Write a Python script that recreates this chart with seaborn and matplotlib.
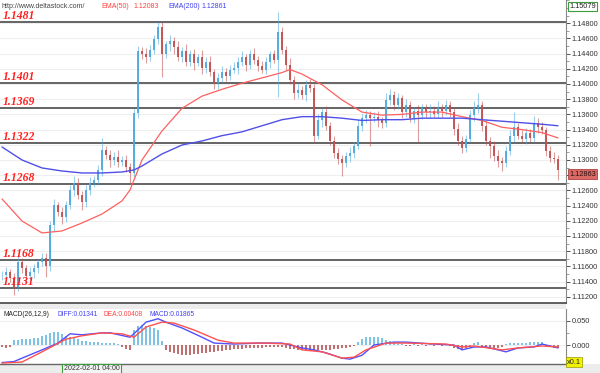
import matplotlib
matplotlib.use("Agg")
import matplotlib.pyplot as plt
from matplotlib.ticker import FuncFormatter, FormatStrFormatter, MultipleLocator
from matplotlib.patches import Rectangle
import seaborn as sns
import numpy as np

# ---------------- data ----------------
first_open = 1.11480
closes = [
    1.11487, 1.11526, 1.11447, 1.11329, 1.11658, 1.11579, 1.11474, 1.11526, 1.11579, 1.11658,
    1.11711, 1.11605, 1.12145, 1.12408, 1.12316, 1.12250, 1.12408, 1.12605, 1.12697, 1.12540,
    1.12447, 1.12605, 1.12697, 1.12737, 1.12868, 1.13132, 1.13066, 1.13000, 1.13040, 1.12974,
    1.13000, 1.12908, 1.12829, 1.13618, 1.14430, 1.14390, 1.14350, 1.14450, 1.14590, 1.14750,
    1.14390, 1.14520, 1.14560, 1.14480, 1.14360, 1.14430, 1.14290, 1.14390, 1.14280, 1.14350,
    1.14210, 1.14290, 1.14160, 1.14010, 1.14080, 1.14160, 1.14110, 1.14190, 1.14210, 1.14290,
    1.14350, 1.14250, 1.14390, 1.14320, 1.14240, 1.14190, 1.14290, 1.14390, 1.14320, 1.14680,
    1.14450, 1.14250, 1.14050, 1.13880, 1.13920, 1.13850, 1.13990, 1.13950, 1.13320, 1.13520,
    1.13630, 1.13450, 1.13250, 1.13090, 1.13010, 1.12960, 1.13050, 1.13090, 1.13190, 1.13450,
    1.13550, 1.13590, 1.13550, 1.13570, 1.13520, 1.13480, 1.13790, 1.13850, 1.13720, 1.13810,
    1.13630, 1.13720, 1.13550, 1.13650, 1.13590, 1.13680, 1.13630, 1.13650, 1.13610, 1.13680,
    1.13640, 1.13720, 1.13630, 1.13410, 1.13250, 1.13160, 1.13280, 1.13590, 1.13680, 1.13720,
    1.13450, 1.13250, 1.13190, 1.13050, 1.12990, 1.12960, 1.13120, 1.13320, 1.13430, 1.13320,
    1.13280, 1.13360, 1.13290, 1.13490, 1.13430, 1.13390, 1.13120, 1.13030, 1.13010, 1.12863,
]
# wick lengths beyond the body, in pips
wick_up = [
    5, 6, 4, 7, 8, 5, 4, 6, 5, 4, 7, 6, 5, 8, 4, 6, 5, 7, 9, 6,
    5, 6, 8, 5, 6, 16, 5, 7, 6, 9, 5, 6, 5, 6, 7, 5, 8, 6, 5, 6,
    7, 5, 9, 6, 8, 5, 9, 6, 7, 5, 10, 6, 8, 4, 6, 7, 5, 6, 8, 6,
    9, 5, 6, 8, 5, 6, 7, 5, 6, 27, 7, 5, 9, 6, 8, 5, 6, 7, 5, 9,
    6, 8, 5, 6, 7, 5, 6, 8, 5, 9, 6, 7, 5, 6, 8, 5, 9, 8, 6, 7,
    5, 8, 6, 5, 7, 6, 5, 8, 6, 9, 5, 7, 6, 5, 8, 6, 5, 7, 9, 16,
    6, 7, 5, 6, 8, 5, 6, 7, 20, 5, 8, 6, 5, 9, 6, 7, 5, 6, 8, 5,
]
wick_dn = [
    6, 7, 5, 10, 5, 7, 6, 5, 8, 6, 5, 14, 6, 8, 5, 9, 6, 5, 8, 6,
    11, 6, 7, 5, 6, 8, 5, 9, 6, 7, 5, 6, 13, 5, 7, 6, 8, 5, 6, 7,
    30, 5, 8, 9, 6, 7, 5, 6, 9, 5, 8, 6, 5, 7, 8, 5, 7, 6, 5, 8,
    6, 8, 5, 6, 7, 5, 6, 8, 5, 49, 6, 7, 5, 8, 6, 5, 7, 6, 9, 5,
    8, 6, 5, 7, 6, 17, 5, 8, 6, 5, 7, 6, 36, 5, 8, 6, 5, 7, 6, 5,
    8, 6, 5, 7, 36, 5, 6, 8, 5, 6, 7, 5, 6, 8, 5, 7, 6, 5, 8, 6,
    7, 5, 16, 6, 8, 11, 5, 6, 8, 5, 6, 7, 5, 6, 8, 5, 7, 6, 5, 13,
]

ema50_idx = [0, 5, 10, 15, 20, 25, 30, 32, 35, 40, 45, 50, 55, 60, 65, 70, 72, 75, 80, 85,
             90, 95, 100, 105, 110, 115, 120, 125, 130, 135, 139]
ema50 = [1.12487, 1.12197, 1.12040, 1.12066, 1.12171, 1.12289, 1.12461, 1.12605, 1.13000, 1.13382,
         1.13680, 1.13840, 1.13930, 1.14010, 1.14080, 1.14150, 1.14190, 1.14130, 1.13990, 1.13790,
         1.13630, 1.13590, 1.13600, 1.13630, 1.13630, 1.13570, 1.13520, 1.13430, 1.13400, 1.13360,
         1.13290]
ema200_idx = [0, 5, 10, 15, 20, 25, 30, 33, 35, 40, 45, 50, 55, 60, 65, 70, 75, 80, 85, 90,
              95, 100, 105, 110, 115, 120, 125, 130, 135, 139]
ema200 = [1.13171, 1.13000, 1.12895, 1.12855, 1.12829, 1.12829, 1.12842, 1.12868, 1.12921, 1.13079,
          1.13197, 1.13250, 1.13320, 1.13370, 1.13450, 1.13530, 1.13570, 1.13570, 1.13550, 1.13520,
          1.13530, 1.13530, 1.13550, 1.13550, 1.13550, 1.13530, 1.13510, 1.13490, 1.13470, 1.13450]

levels = [1.1481, 1.1401, 1.1369, 1.1322, 1.1268, 1.1168, 1.1131]
price_ticks = [1.112, 1.114, 1.116, 1.118, 1.120, 1.122, 1.124, 1.126, 1.128, 1.130,
               1.132, 1.134, 1.136, 1.138, 1.140, 1.142, 1.144, 1.146, 1.148]
last_price = 1.12863
top_price = 1.15079

diff_idx = [0, 3, 5, 10, 14, 17, 20, 25, 27, 32, 34, 36, 39, 41, 45, 50, 53, 58, 64, 70,
            75, 78, 81, 85, 87, 90, 93, 98, 101, 108, 113, 115, 118, 121, 125, 126, 129, 133, 135, 139]
diff = [-0.036, -0.034, -0.027, -0.010, 0.004, 0.023, 0.021, 0.025, 0.025, 0.016,
        0.031, 0.047, 0.054, 0.047, 0.035, 0.016, 0.004, 0.002, 0.004, 0.004,
        -0.006, -0.010, -0.016, -0.027, -0.029, -0.021, 0.000, 0.006, 0.006, 0.002,
        0.000, -0.010, -0.004, -0.004, -0.012, -0.014, -0.006, -0.004, 0.002, -0.006]
dea_idx = [0, 5, 10, 16, 20, 25, 30, 33, 36, 40, 43, 48, 54, 58, 66, 72, 75, 80, 85, 88,
           91, 96, 101, 111, 115, 118, 125, 129, 135, 139]
dea = [-0.037, -0.035, -0.014, 0.012, 0.019, 0.025, 0.023, 0.016, 0.037, 0.047,
       0.045, 0.031, 0.010, 0.004, 0.004, 0.002, -0.010, -0.014, -0.027, -0.025,
       -0.010, 0.004, 0.004, 0.002, -0.004, -0.002, -0.010, -0.006, -0.002, -0.004]
hist = [
    -0.005, -0.006, -0.004,
    0.010, 0.011, 0.012, 0.012, 0.013, 0.014, 0.015,
    0.018, 0.021, 0.024, 0.027, 0.026,
    0.022, 0.019, 0.016, 0.014, 0.012,
    0.009, 0.008, 0.007, 0.006, 0.006,
    0.005, 0.005, 0.004, 0.004, 0.003,
    -0.004, -0.008, -0.010,
    0.030, 0.040, 0.042, 0.040, 0.038, 0.035, 0.030,
    0.008,
    -0.010, -0.014, -0.017, -0.019, -0.020, -0.021, -0.020, -0.019, -0.018,
    -0.017, -0.016, -0.015, -0.014, -0.013, -0.012, -0.011, -0.010,
    -0.009, -0.008, -0.008, -0.007, -0.007, -0.006, -0.006, -0.006, -0.005, -0.005,
    -0.005, -0.004, -0.005, -0.006, -0.008, -0.009, -0.010,
    -0.011, -0.012, -0.012, -0.012, -0.011, -0.011, -0.010, -0.010, -0.009, -0.008,
    -0.007, -0.006, -0.004, -0.002,
    0.006, 0.012, 0.016, 0.017, 0.017, 0.016, 0.014, 0.011, 0.008,
    0.005, 0.003, 0.002, -0.002, -0.003, 0.002, -0.002, 0.003, -0.002, 0.002,
    -0.003, 0.002, -0.002, 0.001, -0.003,
    -0.006, -0.008, -0.008, -0.006, -0.003,
    0.005, 0.006,
    -0.004, -0.006, -0.008, -0.008, -0.007, -0.005,
    0.002, 0.004, 0.005, 0.005, 0.004, 0.005, 0.006, 0.006, 0.007, 0.006,
    -0.003, -0.005, -0.006, -0.006,
]
macd_ticks = [0.0, 0.05]

# ---------------- styling ----------------
sns.set_theme(style="white")
plt.rcParams["font.family"] = ["Liberation Sans", "DejaVu Sans"]

UP = "#4FA8DC"
DOWN = "#C04F4F"
W, H = 600, 373

fig = plt.figure(figsize=(6, 3.73), dpi=100)
fig.patch.set_facecolor("white")


def fxy(x, y):
    return x / W, 1 - y / H


# grey separator bands
fig.add_artist(Rectangle((0, 1 - 309 / H), 566 / W, 6 / H, transform=fig.transFigure,
                         facecolor="#ECECEC", edgecolor="none", zorder=0))
fig.add_artist(Rectangle((0, 0), 1, 9 / H, transform=fig.transFigure,
                         facecolor="#ECECEC", edgecolor="none", zorder=0))

ax = fig.add_axes([0, 70 / H, 566 / W, 303 / H])
ax2 = fig.add_axes([0, 9 / H, 566 / W, 55 / H])

# ---------------- candles ----------------
c = np.array(closes)
o = np.concatenate([[first_open], c[:-1]])
x = np.arange(len(c))
top = np.maximum(o, c)
bot = np.minimum(o, c)
hi = top + np.array(wick_up) * 1e-4
lo = bot - np.array(wick_dn) * 1e-4
up = c >= o
colors = np.where(up, UP, DOWN)

ax.vlines(x, lo, hi, colors=colors, lw=0.8, alpha=0.55, zorder=3)
ax.bar(x, np.maximum(top - bot, 0.00004), bottom=bot, width=0.72, color=colors,
       edgecolor="none", alpha=0.92, zorder=4)

sns.lineplot(x=ema50_idx, y=ema50, ax=ax, color="#FF6060", lw=0.9, zorder=5)
sns.lineplot(x=ema200_idx, y=ema200, ax=ax, color="#5050E8", lw=1.0, zorder=5)

for lv in levels:
    ax.axhline(lv, color="#4A4A4A", lw=1.2, zorder=2)
    ax.annotate(f"{lv:.4f}", xy=(0, lv), xycoords=("axes fraction", "data"),
                xytext=(3, 0), textcoords="offset pixels", ha="left", va="bottom",
                color="#FF2020", fontsize=8.5, fontweight="bold", fontstyle="italic",
                family="Liberation Serif", zorder=6)

ax.set_xlim(-0.5, 141)
ax.set_ylim(1.11118, 1.15105)
ax.set_xticks([])
ax.yaxis.tick_right()
ax.set_yticks(price_ticks)
ax.yaxis.set_minor_locator(MultipleLocator(0.001))
# the 1.12800 label sits under the last-price box
ax.yaxis.set_major_formatter(FuncFormatter(
    lambda v, p: "" if abs(v - last_price) < 0.0012 else f"{v:.5f}"))
ax.tick_params(axis="y", which="major", length=3, width=0.6, pad=1, labelsize=5.3,
               colors="#333333", right=True)
ax.tick_params(axis="y", which="minor", length=2, width=0.5, right=True, colors="#777777")
ax.grid(axis="y", color="#EEEEEE", lw=0.8, zorder=0)
for s in ["left", "top"]:
    ax.spines[s].set_visible(False)
ax.spines["right"].set_color("#888888")
ax.spines["right"].set_linewidth(0.8)
ax.spines["bottom"].set_color("#444444")
ax.spines["bottom"].set_linewidth(1.2)

# ---------------- MACD ----------------
hx = np.arange(len(hist))
h = np.array(hist)
ax2.bar(hx, h, width=0.32, color=np.where(h >= 0, "#7EC3E6", "#C07070"),
        edgecolor="none", zorder=2)
sns.lineplot(x=diff_idx, y=diff, ax=ax2, color="#5050FF", lw=1.0, zorder=3)
sns.lineplot(x=dea_idx, y=dea, ax=ax2, color="#FF5050", lw=1.0, zorder=3)
ax2.set_xlim(-0.5, 141)
ax2.set_ylim(-0.039, 0.074)
ax2.set_xticks([])
ax2.yaxis.tick_right()
ax2.set_yticks(macd_ticks)
ax2.yaxis.set_minor_locator(MultipleLocator(0.025))
ax2.yaxis.set_major_formatter(FormatStrFormatter("%.3f"))
ax2.tick_params(axis="y", which="major", length=3, width=0.6, pad=1, labelsize=5.3,
                colors="#333333", right=True)
ax2.tick_params(axis="y", which="minor", length=2, width=0.5, right=True, colors="#777777")
ax2.grid(axis="y", color="#EEEEEE", lw=0.8, zorder=0)
for s in ["left", "top"]:
    ax2.spines[s].set_visible(False)
ax2.spines["right"].set_color("#888888")
ax2.spines["right"].set_linewidth(0.8)
ax2.spines["bottom"].set_color("#666666")
ax2.spines["bottom"].set_linewidth(1.0)

# ---------------- header texts ----------------
hdr = [("http://www.deltastock.com/", 2, "#444444"), ("EMA(50)", 101, "#FF4040"),
       ("1.12083", 133, "#FF4040"), ("EMA(200)", 168, "#4040F0"), ("1.12861", 201, "#4040F0")]
for txt, px, col in hdr:
    fig.text(*fxy(px, 6), txt, color=col, fontsize=5, va="center", ha="left")

mhdr = [("MACD(26,12,9)", 3, "#222222"), ("DIFF:0.01341", 57, "#4040F0"),
        ("DEA:0.00408", 104, "#FF4040"), ("MACD:0.01865", 150, "#4040F0")]
for txt, px, col in mhdr:
    fig.text(*fxy(px, 315), txt, color=col, fontsize=4.8, va="center", ha="left")

fig.text(*fxy(569, 6.5), f"{top_price:.5f}", fontsize=5.3, color="#222222", va="center",
         ha="left", bbox=dict(boxstyle="square,pad=0.2", fc="white", ec="#3C9D3C", lw=0.8))
fig.text(*fxy(569, 174), f"{last_price:.5f}", fontsize=5.3, color="#2A1010", va="center",
         ha="left", bbox=dict(boxstyle="square,pad=0.2", fc="#DB6964", ec="#B04040", lw=0.6))
fig.text(*fxy(567, 362), "x0.1", fontsize=5.3, color="#222222", va="center", ha="left",
         bbox=dict(boxstyle="square,pad=0.15", fc="#F2F200", ec="#999900", lw=0.5))
fig.text(*fxy(64, 369), "2022-02-01 04:00", fontsize=5, color="#333333", va="center",
         ha="left", bbox=dict(boxstyle="square,pad=0.25", fc="#F4F4F4", ec="#3C9D3C", lw=0.8))

fig.savefig("out.png", dpi=100)
plt.close(fig)
